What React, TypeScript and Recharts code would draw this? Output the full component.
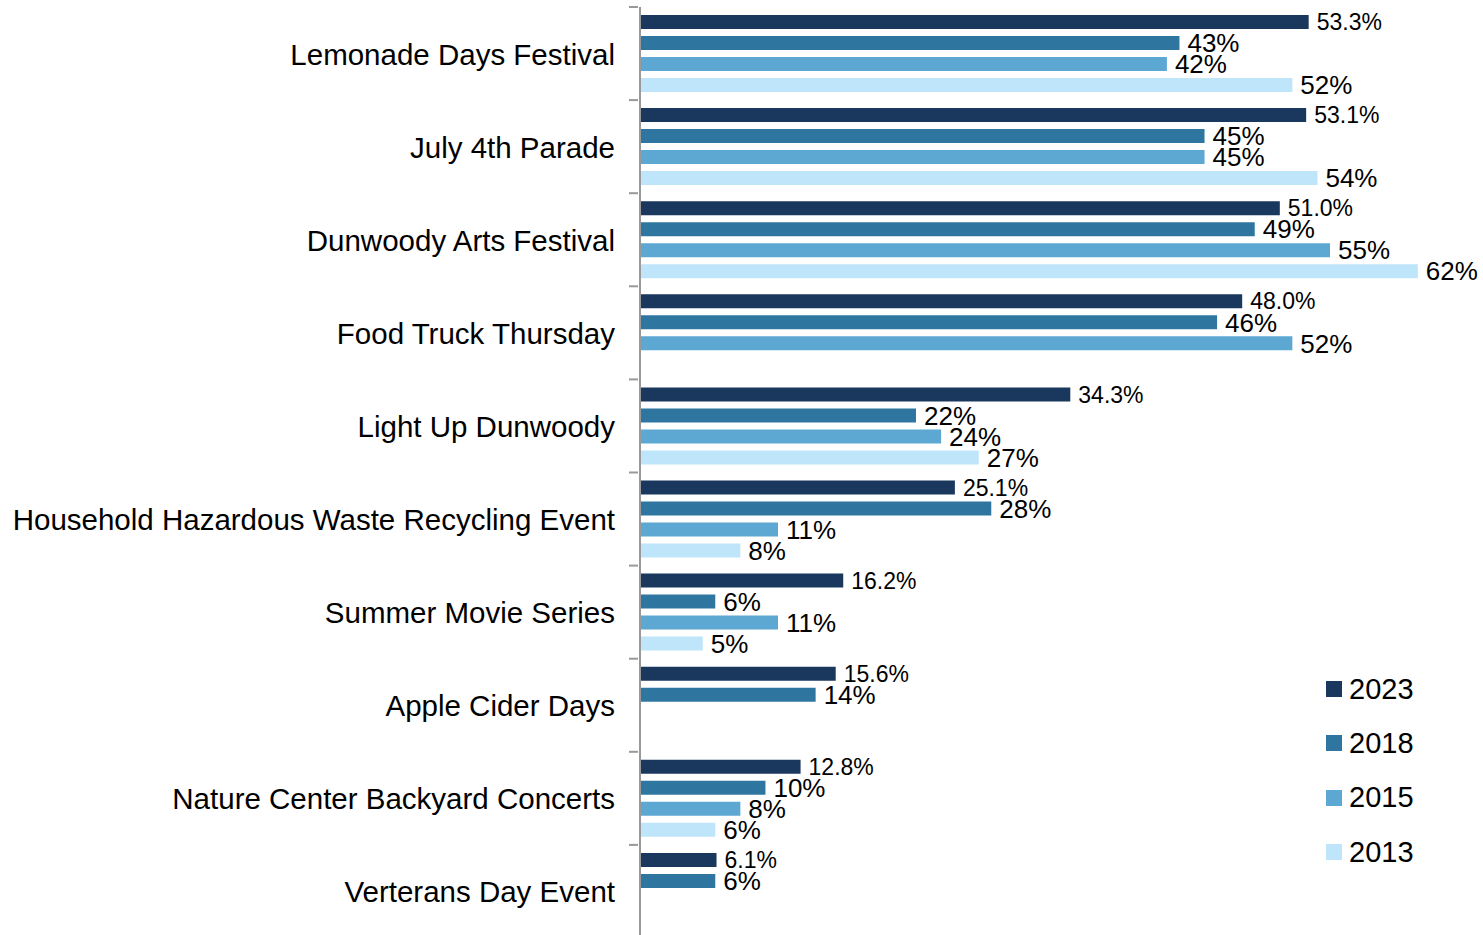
import { BarChart, Bar, XAxis, YAxis, LabelList } from "recharts";

const events = [
  "Lemonade Days Festival",
  "July 4th Parade",
  "Dunwoody Arts Festival",
  "Food Truck Thursday",
  "Light Up Dunwoody",
  "Household Hazardous Waste Recycling Event",
  "Summer Movie Series",
  "Apple Cider Days",
  "Nature Center Backyard Concerts",
  "Verterans Day Event",
];

const y2023 = [53.3, 53.1, 51.0, 48.0, 34.3, 25.1, 16.2, 15.6, 12.8, 6.1];
const y2018 = [43, 45, 49, 46, 22, 28, 6, 14, 10, 6];
const y2015 = [42, 45, 55, 52, 24, 11, 11, null, 8, null];
const y2013 = [52, 54, 62, null, 27, 8, 5, null, 6, null];

const series = [
  { key: "y2023", name: "2023", color: "#1A375E" },
  { key: "y2018", name: "2018", color: "#2E76A0" },
  { key: "y2015", name: "2015", color: "#5DA7D3" },
  { key: "y2013", name: "2013", color: "#BEE5FA" },
];

const data = events.map((event, i) => ({
  event,
  y2023: y2023[i],
  y2018: y2018[i],
  y2015: y2015[i],
  y2013: y2013[i],
}));

const FONT = "'Liberation Sans', Arial, sans-serif";
const BAND = 93.1;

const CategoryTick = (props: any) => {
  const { x, y, payload } = props;
  return (
    <g>
      <line x1={x - 3} x2={x + 6} y1={y - BAND / 2} y2={y - BAND / 2} stroke="#999" strokeWidth={2} />
      <text x={x - 17} y={y} dy={11} textAnchor="end" fontSize={29.5} fill="#000" fontFamily={FONT}>
        {payload.value}
      </text>
    </g>
  );
};

const LegendBox = () => (
  <div style={{ position: "absolute", left: 1326, top: 662, fontFamily: FONT, fontSize: 29, color: "#000" }}>
    {series.map((s) => (
      <div key={s.key} style={{ display: "flex", alignItems: "center", height: 54.3 }}>
        <span style={{ width: 16, height: 16, background: s.color, marginRight: 7 }} />
        <span>{s.name}</span>
      </div>
    ))}
  </div>
);

const fmt1 = (v: any) => (v == null ? "" : `${Number(v).toFixed(1)}%`);
const fmt0 = (v: any) => (v == null ? "" : `${v}%`);

export default function App() {
  return (
    <div style={{ position: "absolute", left: 0, top: 0, width: 1483, height: 935, overflow: "hidden", background: "#fff" }}>
      <BarChart
        width={1483}
        height={940}
        data={data}
        layout="vertical"
        margin={{ top: 7, right: 15, bottom: 2, left: 0 }}
        barSize={14}
        barGap={7}
      >
        <XAxis type="number" domain={[0, 66]} hide />
        <YAxis
          type="category"
          dataKey="event"
          width={640}
          axisLine={{ stroke: "#999", strokeWidth: 2 }}
          tickLine={false}
          tick={<CategoryTick />}
          interval={0}
        />
        {series.map((s) => (
          <Bar key={s.key} dataKey={s.key} name={s.name} fill={s.color} isAnimationActive={false}>
            <LabelList
              dataKey={s.key}
              position="right"
              offset={8}
              formatter={s.key === "y2023" ? fmt1 : fmt0}
              fill="#000"
              fontSize={s.key === "y2023" ? 23 : 26}
              fontFamily={FONT}
            />
          </Bar>
        ))}
      </BarChart>
      <LegendBox />
    </div>
  );
}
